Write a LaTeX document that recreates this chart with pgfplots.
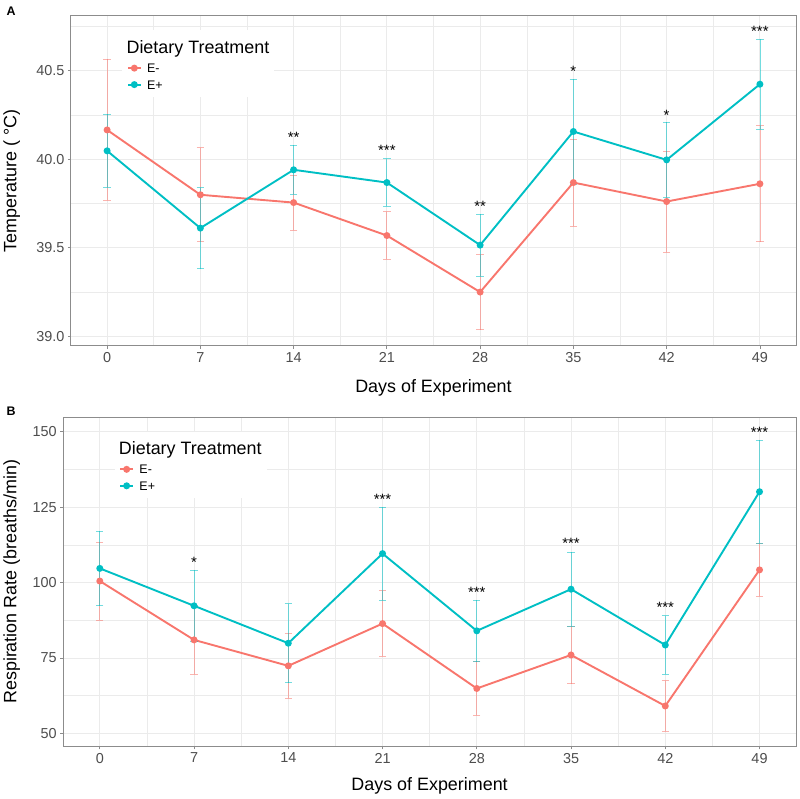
\documentclass[border=0pt]{standalone}
\usepackage{pgfplots}
\pgfplotsset{compat=1.18}
\usepackage{pgfplotstable}
\usepackage{fontspec}
\setmainfont{Liberation Sans}
\definecolor{cred}{HTML}{F8766D}
\definecolor{cteal}{HTML}{00BFC4}
\definecolor{gridc}{HTML}{EBEBEB}
\definecolor{tickc}{HTML}{4D4D4D}
\definecolor{borderc}{HTML}{8C8C8C}

% Panel A: temperature
\pgfplotstableread{
x y e
0 40.165 0.398
7 39.799 0.265
14 39.755 0.155
21 39.569 0.134
28 39.250 0.212
35 39.868 0.245
42 39.761 0.285
49 39.861 0.327
}\tempneg
\pgfplotstableread{
x y e
0 40.047 0.206
7 39.611 0.228
14 39.940 0.138
21 39.868 0.134
28 39.515 0.174
35 40.156 0.296
42 39.996 0.212
49 40.423 0.254
}\temppos
% Panel B: respiration rate
\pgfplotstableread{
x y e
0 100.5 12.9
7 81.0 11.4
14 72.4 10.8
21 86.4 10.85
28 64.9 8.95
35 76.0 9.5
42 59.1 8.35
49 104.2 8.8
}\respneg
\pgfplotstableread{
x y e
0 104.7 12.4
7 92.3 11.7
14 79.9 13.15
21 109.6 15.45
28 84.0 10.25
35 97.8 12.35
42 79.3 9.7
49 130.1 17.05
}\resppos

\pgfplotsset{
  panel/.style={
    anchor=north west, scale only axis,
    xmin=-2.72, xmax=51.71,
    xtick={0,7,14,21,28,35,42,49},
    minor xtick={3.5,10.5,17.5,24.5,31.5,38.5,45.5},
    xtick pos=bottom, ytick pos=left,
    grid=both,
    major grid style={gridc, line width=0.9bp},
    minor grid style={gridc, line width=0.5bp},
    axis line style={borderc, line width=1bp},
    tick align=outside, major tick length=3bp, minor tick length=0pt,
    major tick style={borderc, line width=0.8bp},
    tick label style={font=\fontsize{14.5}{16}\selectfont, text=tickc},
    /pgf/number format/assume math mode=true,
    label style={font=\fontsize{18}{20}\selectfont},
    xlabel={Days of Experiment},
    legend cell align=left,
    legend style={draw=none, fill=white, inner xsep=5bp, inner ysep=4bp,
      nodes={inner sep=0pt, anchor=west}, column sep=5.7bp, row sep=0pt,
      font=\fontsize{12.5}{14}\selectfont},
    legend image code/.code={\draw[mark repeat=2,mark phase=2,##1] plot coordinates {(0bp,0bp) (6.2bp,0bp) (12.4bp,0bp)};},
  },
  errs/.style={
    error bars/y dir=both, error bars/y explicit,
    error bars/error bar style={line width=0.8bp, opacity=0.55},
    error bars/error mark options={line width=0.8bp, mark size=3.7bp, opacity=0.55, rotate=90},
  },
  negline/.style={cred, line width=1.9bp, mark=*, mark size=2.5bp, mark options={solid, fill=cred, draw=cred}, errs},
  posline/.style={cteal, line width=1.9bp, mark=*, mark size=2.5bp, mark options={solid, fill=cteal, draw=cteal}, errs},
}
\tikzset{sig/.style={anchor=base, yshift=-8.6bp, font=\fontsize{15}{16}\selectfont, inner sep=0pt}}
\newcommand{\legtitle}{\hspace*{-20.6bp}\fontsize{18}{20}\selectfont Dietary Treatment}

\begin{document}
\begin{tikzpicture}
\path (0,0) rectangle (800bp,-799bp);
\node[anchor=base west, inner sep=0pt, font=\fontsize{12.5}{14}\selectfont\bfseries] at (5.5bp,-15.3bp) {A};
\node[anchor=base west, inner sep=0pt, font=\fontsize{12.5}{14}\selectfont\bfseries] at (5.5bp,-416.3bp) {B};

\begin{axis}[panel, at={(70bp,-16bp)}, width=726bp, height=330bp,
  ymin=38.948, ymax=40.808,
  ytick={39,39.5,40,40.5}, minor ytick={39.25,39.75,40.25,40.75},
  yticklabel style={/pgf/number format/.cd, fixed, fixed zerofill, precision=1},
  ylabel={Temperature ( °C)},
  ylabel style={at={(axis description cs:-0.0815,0.5)}, anchor=center},
  xlabel style={at={(axis description cs:0.5,-0.091)}, anchor=north},
  legend style={at={(axis description cs:0.0705,0.9568)}, anchor=north west},
]
\addlegendimage{empty legend}\addlegendentry[text height=19.2bp, text depth=6.3bp]{\legtitle}
\addplot[negline] table[x=x, y=y, y error=e] {\tempneg};
\addlegendentry[text height=12.75bp, text depth=3.75bp]{E-}
\addplot[posline] table[x=x, y=y, y error=e] {\temppos};
\addlegendentry[text height=12.75bp, text depth=3.75bp]{E+}
\node[sig] at (axis cs:14,40.141) {**};
\node[sig] at (axis cs:21,40.067) {***};
\node[sig] at (axis cs:28,39.754) {**};
\node[sig] at (axis cs:35,40.513) {*};
\node[sig] at (axis cs:42,40.268) {*};
\node[sig] at (axis cs:49,40.739) {***};
\end{axis}

\begin{axis}[panel, at={(62.3bp,-417.7bp)}, width=733.7bp, height=329.6bp,
  ymin=45.7, ymax=154.8,
  ytick={50,75,100,125,150}, minor ytick={62.5,87.5,112.5,137.5},
  ylabel={Respiration Rate (breaths/min)},
  ylabel style={at={(axis description cs:-0.0703,0.5)}, anchor=center},
  xlabel style={at={(axis description cs:0.5,-0.085)}, anchor=north},
  legend style={at={(axis description cs:0.0698,0.9568)}, anchor=north west},
]
\addlegendimage{empty legend}\addlegendentry[text height=19.2bp, text depth=6.3bp]{\legtitle}
\addplot[negline] table[x=x, y=y, y error=e] {\respneg};
\addlegendentry[text height=12.75bp, text depth=3.75bp]{E-}
\addplot[posline] table[x=x, y=y, y error=e] {\resppos};
\addlegendentry[text height=12.75bp, text depth=3.75bp]{E+}
\node[sig] at (axis cs:7,107.9) {*};
\node[sig] at (axis cs:21,128.7) {***};
\node[sig] at (axis cs:28,98.0) {***};
\node[sig] at (axis cs:35,114.0) {***};
\node[sig] at (axis cs:42,92.8) {***};
\node[sig] at (axis cs:49,151.0) {***};
\end{axis}
\end{tikzpicture}
\end{document}
